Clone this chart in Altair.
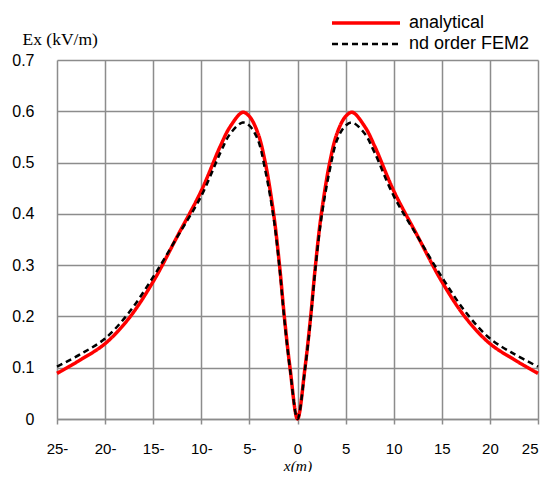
import altair as alt
import pandas as pd

# x positions (m)
x_pos = [-25, -22.5, -20, -17.5, -15, -12.5, -10, -8, -7, -5.7, -5, -4.13, -3.35, -2.48,
         -1.87, -1.37, -0.78, 0, 0.78, 1.37, 1.87, 2.48, 3.35, 4.13, 5, 5.7, 7, 8, 10,
         12.5, 15, 17.5, 20, 22.5, 25]

analytical = [0.089, 0.116, 0.147, 0.197, 0.268, 0.356, 0.445, 0.533, 0.570, 0.598, 0.590,
              0.558, 0.500, 0.400, 0.300, 0.200, 0.100, 0.000, 0.100, 0.200, 0.300, 0.400,
              0.500, 0.558, 0.590, 0.598, 0.570, 0.533, 0.445, 0.356, 0.268, 0.197, 0.147,
              0.116, 0.089]

fem2 = [0.102, 0.127, 0.157, 0.208, 0.277, 0.355, 0.435, 0.520, 0.556, 0.578, 0.572,
        0.545, 0.485, 0.392, 0.295, 0.195, 0.097, 0.000, 0.097, 0.195, 0.295, 0.392,
        0.485, 0.545, 0.572, 0.578, 0.556, 0.520, 0.435, 0.355, 0.277, 0.208, 0.157,
        0.127, 0.102]

series_names = ["analytical", "nd order FEM2"]
x_ticks = [-25, -20, -15, -10, -5, 0, 5, 10, 15, 20, 25]
y_ticks = [0, 0.1, 0.2, 0.3, 0.4, 0.5, 0.6, 0.7]

rows = []
for name, vals in zip(series_names, [analytical, fem2]):
    for xv, yv in zip(x_pos, vals):
        rows.append({"x": xv, "y": yv, "series": name})
df = pd.DataFrame(rows)

GRID = "#8c8c8c"

legend = alt.Legend(
    title=None, orient="none", legendX=300, legendY=-46,
    symbolType="M-5,0H5", symbolSize=185, symbolStrokeWidth=3,
    labelOffset=34, labelFont="Liberation Sans", labelFontSize=18,
    labelColor="black", padding=0, rowPadding=3,
)

chart = alt.Chart(df).mark_line(interpolate="catmull-rom").encode(
    x=alt.X(
        "x:Q",
        scale=alt.Scale(domain=[-25, 25], nice=False, zero=False),
        axis=alt.Axis(
            values=x_ticks,
            labelExpr="datum.value < 0 ? abs(datum.value) + '-' : datum.value + ''",
            labelAlign={"condition": {"test": "datum.value == 25", "value": "right"}, "value": "center"},
            grid=True, gridColor=GRID, gridWidth=1.5,
            domainColor=GRID, domainWidth=1.5,
            ticks=True, tickColor=GRID, tickWidth=1.5, tickSize=5,
            labelFont="Liberation Sans", labelFontSize=15, labelColor="black",
            labelPadding=17, labelFlush=False, labelOverlap=False,
            title="x(m)", titleFont="Liberation Serif", titleFontStyle="italic",
            titleFontWeight="normal", titleFontSize=15.5, titleColor="black",
            titleY=51, titleBaseline="alphabetic",
        ),
    ),
    y=alt.Y(
        "y:Q",
        scale=alt.Scale(domain=[0, 0.7], nice=False),
        axis=alt.Axis(
            values=y_ticks, format="~g",
            grid=True, gridColor=GRID, gridWidth=1.5,
            domain=False, ticks=False,
            labelFont="Liberation Sans", labelFontSize=16, labelColor="black",
            labelPadding=23, labelFlush=False, labelOverlap=False,
            title="Ex (kV/m)", titleFont="Liberation Serif", titleFontWeight="normal",
            titleFontSize=17.5, titleColor="black", titleAngle=0, titleAlign="left",
            titleBaseline="alphabetic", titleX=-35, titleY=-16,
        ),
    ),
    color=alt.Color("series:N", scale=alt.Scale(domain=series_names, range=["#ff0000", "#000000"]),
                    legend=legend),
    strokeDash=alt.StrokeDash("series:N", scale=alt.Scale(domain=series_names, range=[[1, 0], [6, 4]]),
                              legend=legend),
    strokeWidth=alt.StrokeWidth("series:N", scale=alt.Scale(domain=series_names, range=[3.5, 2.5]),
                                legend=None),
).properties(
    width=481, height=359,
    autosize=alt.AutoSizeParams(type="none"),
    padding={"left": 49, "top": 52, "right": 3, "bottom": 53},
).configure_view(stroke=None)

chart.save("out.html", embed_options={"renderer": "svg", "actions": False})
